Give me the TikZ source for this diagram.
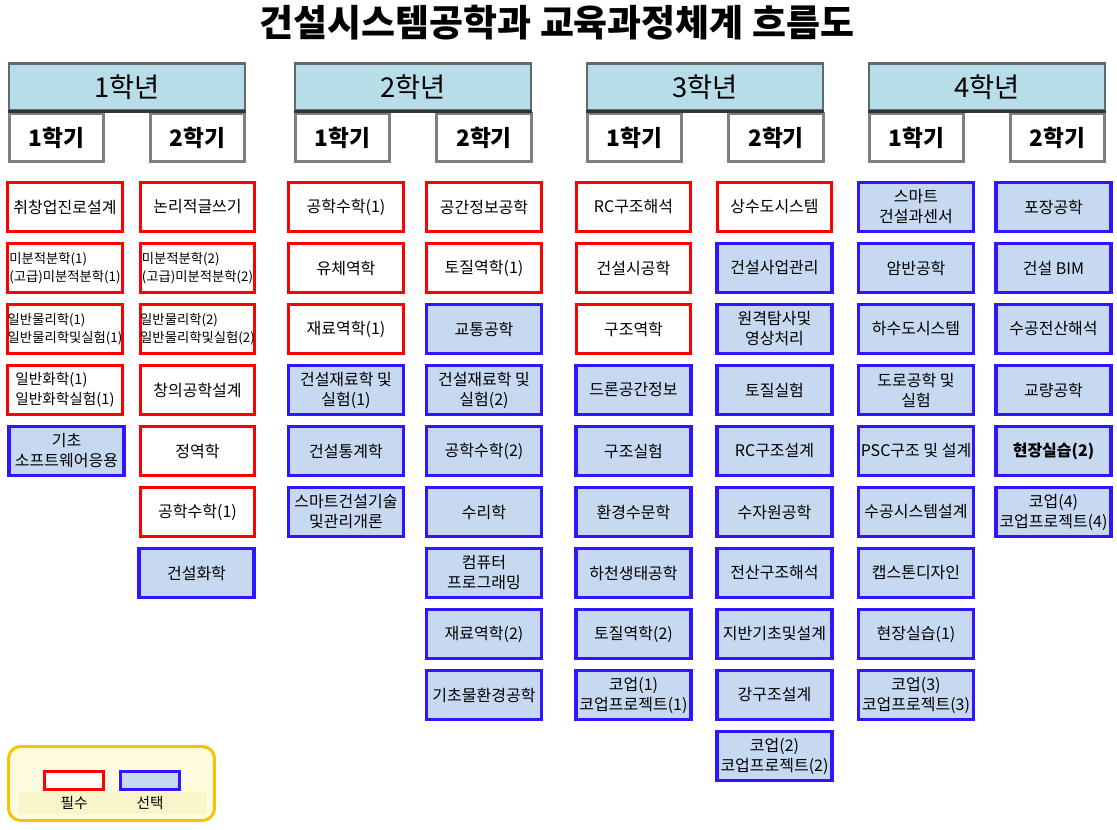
\documentclass[tikz,border=0pt]{standalone}
\usepackage{fontspec}
\setmainfont{Noto Sans CJK KR}
\definecolor{reqred}{HTML}{FF0000}
\definecolor{optblue}{HTML}{3016FF}
\definecolor{optfill}{HTML}{C6D9F1}
\definecolor{yearfill}{HTML}{B7DEE8}
\definecolor{yearline}{HTML}{5F6B6E}
\definecolor{semline}{HTML}{7F7F7F}
\definecolor{legline}{HTML}{FFC000}
\definecolor{legfill}{HTML}{FEFBDE}
\definecolor{legstrip}{HTML}{FAF5C8}

\tikzset{
  course/.style={line width=2.4pt, minimum width=86pt, minimum height=37pt,
    inner xsep=0pt, inner ysep=1pt, align=center,
    font=\fontsize{12}{15}\selectfont},
  req/.style={course, draw=reqred, fill=white},
  opt/.style={course, draw=optblue, fill=optfill, line width=2.7pt},
  small/.style={align=left, font=\fontsize{10}{13.5}\selectfont},
  yearhdr/.style={draw=yearline, fill=yearfill, line width=2.2pt,
    minimum width=177pt, minimum height=35pt, font=\fontsize{20.5}{24}\selectfont},
  semhdr/.style={draw=semline, fill=white, line width=2.2pt,
    minimum width=71pt, minimum height=36pt, font=\fontsize{17}{20}\selectfont\bfseries}
}

\begin{document}
\begin{tikzpicture}[x=0.75pt, y=-0.75pt]

    \useasboundingbox (0,0) rectangle (1117,830);

    \node[font=\fontsize{27.7}{30}\selectfont\bfseries] (title) at (557,23) {건설시스템공학과 교육과정체계 흐름도};

    % headers
    \node[yearhdr] (y1) at (127,87) {1학년};
    \node[yearhdr] (y2) at (413,87) {2학년};
    \node[yearhdr] (y3) at (705,87) {3학년};
    \node[yearhdr] (y4) at (987,87) {4학년};

    \node[semhdr] (y1s1) at (56.5,137.5) {1학기};
    \node[semhdr] (y1s2) at (197.5,137.5) {2학기};
    \node[semhdr] (y2s1) at (342.5,137.5) {1학기};
    \node[semhdr] (y2s2) at (484,137.5) {2학기};
    \node[semhdr] (y3s1) at (634.5,137.5) {1학기};
    \node[semhdr] (y3s2) at (776,137.5) {2학기};
    \node[semhdr] (y4s1) at (916.5,137.5) {1학기};
    \node[semhdr] (y4s2) at (1057.5,137.5) {2학기};

    \draw[line width=2.4pt, black!80] (y1.south west) -- (y1.south east);
    \draw[line width=2.4pt, black!80] (y2.south west) -- (y2.south east);
    \draw[line width=2.4pt, black!80] (y3.south west) -- (y3.south east);
    \draw[line width=2.4pt, black!80] (y4.south west) -- (y4.south east);

    % 1학년 1학기
    \node[req] (a1) at (65,207) {취창업진로설계};
    \node[req, small] (a2) at (65,268) {미분적분학(1)\\(고급)미분적분학(1)};
    \node[req, small] (a3) at (65,329) {일반물리학(1)\\일반물리학및실험(1)};
    \node[req, small, font=\fontsize{11}{15}\selectfont] (a4) at (65,390) {일반화학(1)\\일반화학실험(1)};
    \node[opt] (a5) at (66.5,451) {기초\\소프트웨어응용};

    % 1학년 2학기
    \node[req] (b1) at (197.5,207) {논리적글쓰기};
    \node[req, small] (b2) at (197.5,268) {미분적분학(2)\\(고급)미분적분학(2)};
    \node[req, small] (b3) at (197.5,329) {일반물리학(2)\\일반물리학및실험(2)};
    \node[req] (b4) at (197.5,390) {창의공학설계};
    \node[req] (b5) at (197.5,451) {정역학};
    \node[req] (b6) at (197.5,512) {공학수학(1)};
    \node[opt] (b7) at (196.5,573) {건설화학};

    % 2학년 1학기
    \node[req] (c1) at (346,207) {공학수학(1)};
    \node[req] (c2) at (346,268) {유체역학};
    \node[req] (c3) at (346,329) {재료역학(1)};
    \node[opt] (c4) at (346,390) {건설재료학 및\\실험(1)};
    \node[opt] (c5) at (346,451) {건설통계학};
    \node[opt] (c6) at (346,512) {스마트건설기술\\및관리개론};

    % 2학년 2학기
    \node[req] (d1) at (484,207) {공간정보공학};
    \node[req] (d2) at (484,268) {토질역학(1)};
    \node[opt] (d3) at (484,329) {교통공학};
    \node[opt] (d4) at (484,390) {건설재료학 및\\실험(2)};
    \node[opt] (d5) at (484,451) {공학수학(2)};
    \node[opt] (d6) at (484,512) {수리학};
    \node[opt] (d7) at (484,573) {컴퓨터\\프로그래밍};
    \node[opt] (d8) at (484,634) {재료역학(2)};
    \node[opt] (d9) at (484,695) {기초물환경공학};

    % 3학년 1학기
    \node[req] (e1) at (633.5,207) {RC구조해석};
    \node[req] (e2) at (633.5,268) {건설시공학};
    \node[req] (e3) at (633.5,329) {구조역학};
    \node[opt] (e4) at (633.5,390) {드론공간정보};
    \node[opt] (e5) at (633.5,451) {구조실험};
    \node[opt] (e6) at (633.5,512) {환경수문학};
    \node[opt] (e7) at (633.5,573) {하천생태공학};
    \node[opt] (e8) at (633.5,634) {토질역학(2)};
    \node[opt] (e9) at (633.5,695) {코업(1)\\코업프로젝트(1)};

    % 3학년 2학기
    \node[req] (f1) at (774.5,207) {상수도시스템};
    \node[opt] (f2) at (774.5,268) {건설사업관리};
    \node[opt] (f3) at (774.5,329) {원격탐사및\\영상처리};
    \node[opt] (f4) at (774.5,390) {토질실험};
    \node[opt] (f5) at (774.5,451) {RC구조설계};
    \node[opt] (f6) at (774.5,512) {수자원공학};
    \node[opt] (f7) at (774.5,573) {전산구조해석};
    \node[opt] (f8) at (774.5,634) {지반기초및설계};
    \node[opt] (f9) at (774.5,695) {강구조설계};
    \node[opt] (f10) at (774.5,756) {코업(2)\\코업프로젝트(2)};

    % 4학년 1학기
    \node[opt] (g1) at (916,207) {스마트\\건설과센서};
    \node[opt] (g2) at (916,268) {암반공학};
    \node[opt] (g3) at (916,329) {하수도시스템};
    \node[opt] (g4) at (916,390) {도로공학 및\\실험};
    \node[opt] (g5) at (916,451) {PSC구조 및 설계};
    \node[opt] (g6) at (916,512) {수공시스템설계};
    \node[opt] (g7) at (916,573) {캡스톤디자인};
    \node[opt] (g8) at (916,634) {현장실습(1)};
    \node[opt] (g9) at (916,695) {코업(3)\\코업프로젝트(3)};

    % 4학년 2학기
    \node[opt] (h1) at (1053.5,207) {포장공학};
    \node[opt] (h2) at (1053.5,268) {건설 BIM};
    \node[opt] (h3) at (1053.5,329) {수공전산해석};
    \node[opt] (h4) at (1053.5,390) {교량공학};
    \node[opt, font=\fontsize{12}{15}\selectfont\bfseries] (h5) at (1053.5,451) {현장실습(2)};
    \node[opt] (h6) at (1053.5,512) {코업(4)\\코업프로젝트(4)};

    % legend
    \draw[draw=legline, fill=legfill, line width=2.2pt, rounded corners=9pt] (8.5,746.5) rectangle (214.5,820.5);
    \fill[legstrip] (19,792) rectangle (206,814);
    \node[draw=reqred, fill=white, line width=2.3pt, minimum width=44pt, minimum height=13.5pt] (kreq) at (74,780.5) {};
    \node[draw=optblue, fill=optfill, line width=2.3pt, minimum width=44pt, minimum height=13.5pt] (kopt) at (150,780.5) {};
    \node[font=\fontsize{11}{12}\selectfont] (lreq) at (74,803) {필수};
    \node[font=\fontsize{11}{12}\selectfont] (lopt) at (150,803) {선택};

\end{tikzpicture}
\end{document}
